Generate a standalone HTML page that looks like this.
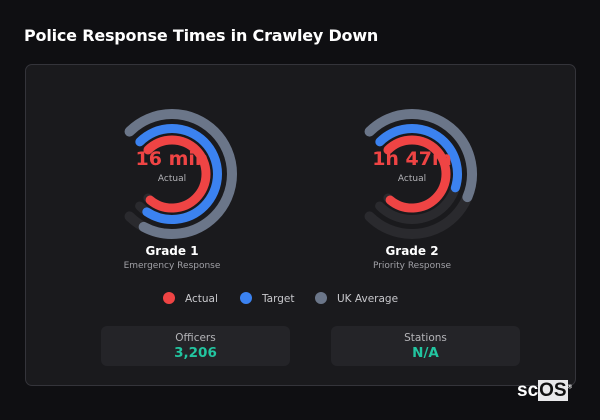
<!DOCTYPE html>
<html><head><meta charset="utf-8"><style>
body{margin:0;width:600px;height:420px;background:#0f0f12;font-family:"DejaVu Sans","Liberation Sans",sans-serif;position:relative;overflow:hidden;color:#fff}
.title{position:absolute;left:24px;top:26px;font-size:16px;font-weight:bold;color:#fff;letter-spacing:-0.2px}
.panel{position:absolute;left:25px;top:64px;width:549px;height:320px;background:#1a1a1d;border:1px solid #34343a;border-radius:7px}
.box{position:absolute;top:326px;width:189px;height:40px;background:#242428;border-radius:6px;text-align:center}
.box .l{font-size:10.5px;color:#b4b4b8;margin-top:6px}
.box .v{font-size:13.5px;font-weight:bold;color:#22c5a0;margin-top:1px}
.leg{position:absolute;top:292px;font-size:10.5px;color:#c8c8cc}
.dot{display:inline-block;width:12px;height:12px;border-radius:6px;vertical-align:-2px;margin-right:10px}
.t{position:absolute;text-align:center;width:140px}
</style></head><body>
<div class="title">Police Response Times in Crawley Down</div>
<div class="panel"></div>
<svg width="600" height="420" style="position:absolute;left:0;top:0" fill="none" stroke-linecap="round">
 <g transform="translate(172,174) rotate(225)">
  <circle r="60" stroke="#2a2a2e" stroke-width="10" stroke-dasharray="282.7 400"/>
  <circle r="60" stroke="#6b7689" stroke-width="10" stroke-dasharray="265 400"/>
  <circle r="45.5" stroke="#2a2a2e" stroke-width="9" stroke-dasharray="214.4 400"/>
  <circle r="45.5" stroke="#3b82f0" stroke-width="9" stroke-dasharray="205 400"/>
  <circle r="34" stroke="#2a2a2e" stroke-width="9" stroke-dasharray="160 400"/>
  <circle r="34" stroke="#ef4444" stroke-width="9" stroke-dasharray="157 400"/>
 </g>
 <g transform="translate(412,174) rotate(225)">
  <circle r="60" stroke="#2a2a2e" stroke-width="10" stroke-dasharray="282.7 400"/>
  <circle r="60" stroke="#6b7689" stroke-width="10" stroke-dasharray="165 400"/>
  <circle r="45.5" stroke="#2a2a2e" stroke-width="9" stroke-dasharray="214.4 400"/>
  <circle r="45.5" stroke="#3b82f0" stroke-width="9" stroke-dasharray="121 400"/>
  <circle r="34" stroke="#2a2a2e" stroke-width="9" stroke-dasharray="160 400"/>
  <circle r="34" stroke="#ef4444" stroke-width="9" stroke-dasharray="157 400"/>
 </g>
</svg>
<div class="t" style="left:102px;top:148px;font-size:19px;font-weight:bold;color:#ef4444">16 min</div>
<div class="t" style="left:102px;top:174px;font-size:9px;color:#b4b4b8">Actual</div>
<div class="t" style="left:102px;top:244px;font-size:12px;font-weight:bold">Grade 1</div>
<div class="t" style="left:102px;top:261px;font-size:9px;color:#a0a0a6">Emergency Response</div>
<div class="t" style="left:342px;top:148px;font-size:19px;font-weight:bold;color:#ef4444">1h 47m</div>
<div class="t" style="left:342px;top:174px;font-size:9px;color:#b4b4b8">Actual</div>
<div class="t" style="left:342px;top:244px;font-size:12px;font-weight:bold">Grade 2</div>
<div class="t" style="left:342px;top:261px;font-size:9px;color:#a0a0a6">Priority Response</div>
<div class="leg" style="left:163px"><span class="dot" style="background:#ef4444"></span>Actual</div>
<div class="leg" style="left:240px"><span class="dot" style="background:#3b82f0"></span>Target</div>
<div class="leg" style="left:315px"><span class="dot" style="background:#6b7689"></span>UK Average</div>
<div class="box" style="left:101px"><div class="l">Officers</div><div class="v">3,206</div></div>
<div class="box" style="left:331px"><div class="l">Stations</div><div class="v">N/A</div></div>
<div style="position:absolute;left:517px;top:380px;font-family:'Liberation Sans',sans-serif;font-size:19px;font-weight:bold;color:#fff">sc<span style="background:#e8e8ea;color:#111;padding:0 1px">OS</span><sup style="font-size:6px">®</sup></div>
</body></html>
